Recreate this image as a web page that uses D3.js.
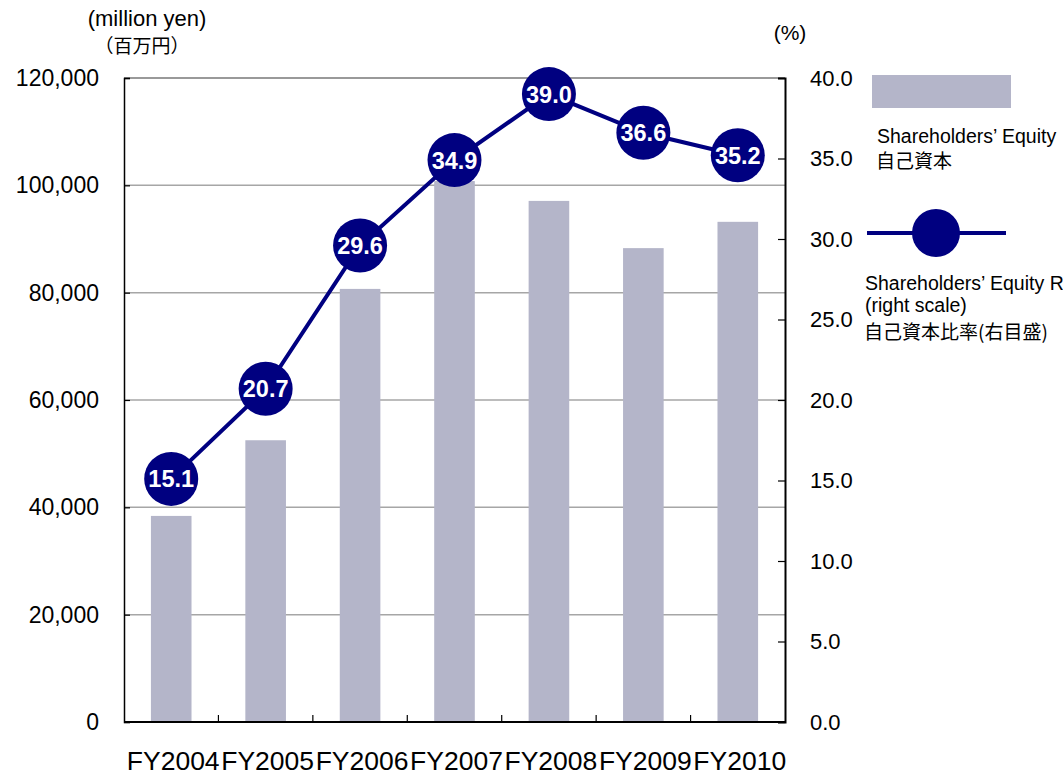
<!DOCTYPE html>
<html><head><meta charset="utf-8">
<script src="https://cdn.jsdelivr.net/npm/d3@7"></script>
<style>body{margin:0;background:#fff}svg{display:block;font-family:Arial,"Liberation Sans",sans-serif}</style>
</head><body>
<svg id="c" width="1063" height="776"></svg>
<script>
const categories = ["FY2004","FY2005","FY2006","FY2007","FY2008","FY2009","FY2010"];
const equity = [38400, 52500, 80700, 100800, 97100, 88300, 93200];
const ratio = [15.1, 20.7, 29.6, 34.9, 39.0, 36.6, 35.2];
const leftTicks = [0, 20000, 40000, 60000, 80000, 100000, 120000];
const rightTicks = [0, 5, 10, 15, 20, 25, 30, 35, 40];

const svg = d3.select("#c");
const L = 124, R = 785, T = 78, B = 722;
const x = d3.scaleBand().domain(categories).range([L, R]).paddingInner(0.57).paddingOuter(0.285);
const xb = d3.scaleBand().domain(categories).range([L, R]);
const yL = d3.scaleLinear().domain([0, 120000]).range([B, T]);
const yR = d3.scaleLinear().domain([0, 40]).range([B, T]);
const navy = "#000080", barC = "#b4b5c9";
const AR = "Arial, 'Liberation Sans', sans-serif", JP = "'Noto Sans CJK JP', sans-serif";

// gridlines
svg.append("g").selectAll("line").data(leftTicks.filter(d => d > 0)).join("line")
  .attr("x1", L).attr("x2", R).attr("y1", d => yL(d)).attr("y2", d => yL(d))
  .attr("stroke", d => d === 120000 ? "#777" : "#a6a6a6").attr("stroke-width", 1.5);

// bars
svg.append("g").selectAll("rect").data(categories).join("rect")
  .attr("x", d => x(d)).attr("width", x.bandwidth())
  .attr("y", (d, i) => yL(equity[i])).attr("height", (d, i) => B - yL(equity[i]))
  .attr("fill", barC);

// left axis
const gl = svg.append("g").attr("transform", `translate(${L},0)`)
  .call(d3.axisLeft(yL).tickValues(leftTicks).tickSize(-6).tickPadding(25).tickFormat(d3.format(",")));
gl.select(".domain").attr("stroke", "#000").attr("stroke-width", 1.5);
gl.selectAll(".tick line").attr("stroke", "#000").attr("stroke-width", 1.2);
gl.selectAll("text").attr("font-size", 23).attr("fill", "#000").attr("font-family", AR);

// right axis
const gr = svg.append("g").attr("transform", `translate(${R},0)`)
  .call(d3.axisRight(yR).tickValues(rightTicks).tickSize(-7).tickPadding(25).tickFormat(d3.format(".1f")));
gr.select(".domain").attr("stroke", "#000").attr("stroke-width", 2);
gr.selectAll(".tick line").attr("stroke", "#000").attr("stroke-width", 1.2);
gr.selectAll("text").attr("font-size", 22).attr("fill", "#000").attr("font-family", AR);

// bottom axis
svg.append("line").attr("x1", L).attr("x2", R).attr("y1", B).attr("y2", B).attr("stroke", "#000").attr("stroke-width", 2);
svg.append("g").selectAll("line").data(categories.slice(1)).join("line")
  .attr("x1", d => xb(d)).attr("x2", d => xb(d)).attr("y1", B).attr("y2", B - 7)
  .attr("stroke", "#000").attr("stroke-width", 1.2);
svg.append("g").selectAll("text").data(categories).join("text")
  .attr("x", d => xb(d) + xb.bandwidth() / 2 + 2).attr("y", 770)
  .attr("text-anchor", "middle").attr("font-size", 26.5).attr("fill", "#000").text(d => d);

// line
const cx = d => xb(d) + xb.bandwidth() / 2;
svg.append("path").datum(categories)
  .attr("d", d3.line().x(d => cx(d)).y((d, i) => yR(ratio[i])))
  .attr("fill", "none").attr("stroke", navy).attr("stroke-width", 4);
const pts = svg.append("g").selectAll("g").data(categories).join("g")
  .attr("transform", (d, i) => `translate(${cx(d)},${yR(ratio[i])})`);
pts.append("circle").attr("r", 27).attr("fill", navy);
pts.append("text").attr("text-anchor", "middle").attr("dy", "0.36em")
  .attr("font-size", 23.5).attr("font-weight", "bold").attr("fill", "#fff")
  .text((d, i) => ratio[i].toFixed(1));

// axis titles
const t = (xx, yy, s, txt, anchor, fam) => svg.append("text").attr("x", xx).attr("y", yy)
  .attr("font-size", s).attr("text-anchor", anchor || "start").attr("fill", "#000")
  .attr("font-family", fam || AR).text(txt);
t(147, 26, 22, "(million yen)", "middle");
t(142, 53, 19, "（百万円）", "middle", JP);
t(790, 40, 21, "(%)", "middle");

// legend
svg.append("rect").attr("x", 872).attr("y", 75).attr("width", 139).attr("height", 33).attr("fill", barC);
t(877, 143, 19.5, "Shareholders’ Equity");
t(876, 168, 19, "自己資本", "start", JP);
svg.append("line").attr("x1", 867).attr("x2", 1006).attr("y1", 233).attr("y2", 233).attr("stroke", navy).attr("stroke-width", 4);
svg.append("circle").attr("cx", 936).attr("cy", 233).attr("r", 24).attr("fill", navy);
t(865, 290, 19.5, "Shareholders’ Equity Ratio");
t(865, 312, 19.5, "(right scale)");
t(864, 339, 19, "自己資本比率(右目盛)", "start", JP);
</script>
</body></html>
